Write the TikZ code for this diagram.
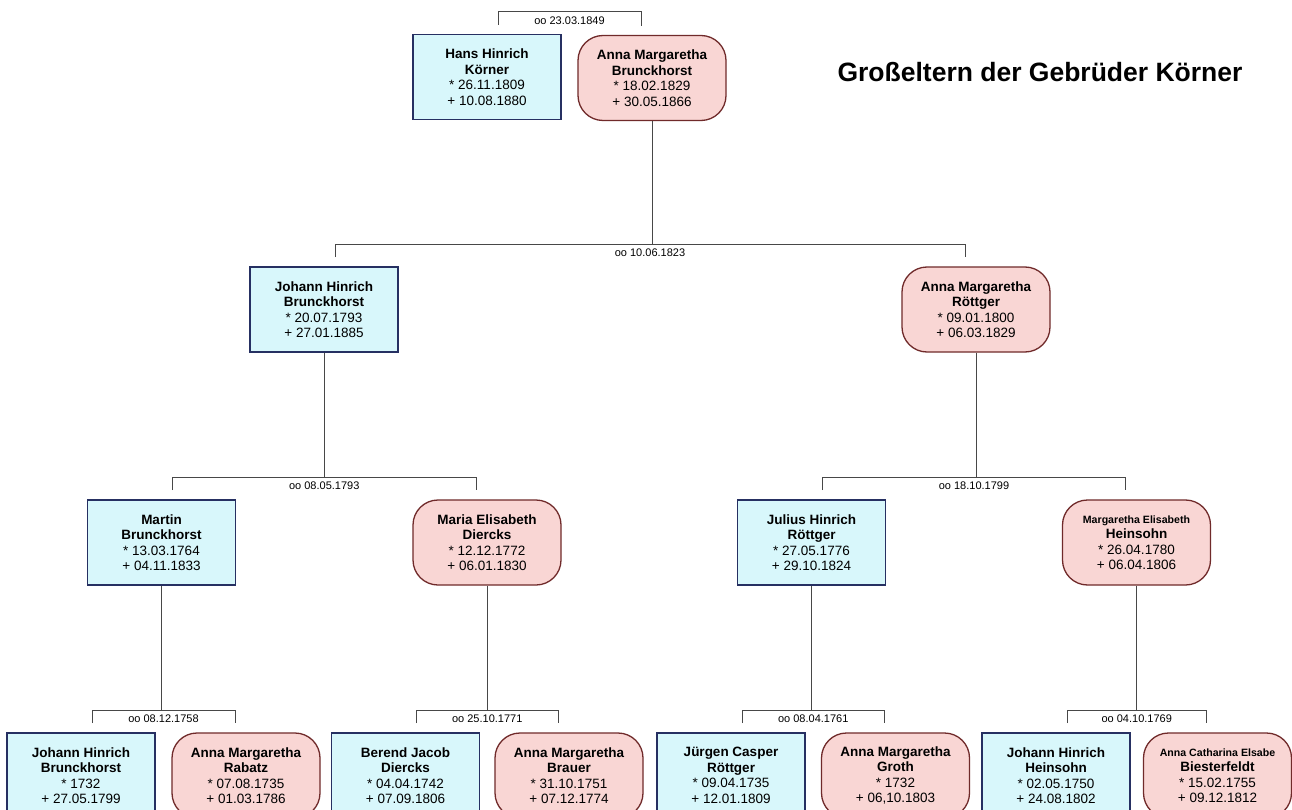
\documentclass[tikz,border=0pt]{standalone}
\usepackage{fontspec}
\setmainfont{Liberation Sans}
\usetikzlibrary{calc}
\definecolor{manfill}{RGB}{216,247,251}
\definecolor{manedge}{RGB}{38,48,98}
\definecolor{womanfill}{RGB}{249,214,212}
\definecolor{womanedge}{RGB}{112,42,42}
\definecolor{linkgray}{RGB}{72,72,72}
% one person card: two bold name lines, birth and death dates
\newcommand{\pcard}[4]{\textbf{#1}\\\textbf{#2}\\{}* #3\\{}+ #4}
\newcommand{\smallname}[1]{{\fontsize{10.6}{15.5}\selectfont #1}}
% marriage bracket above a couple: husband, wife, date, coordinate prefix
\newcommand{\wedlock}[4]{%
  \coordinate (#4l) at ([xshift=11pt,yshift=9pt]#1.north);
  \coordinate (#4r) at ([xshift=-11pt,yshift=9pt]#2.north);
  \coordinate (#4m) at ($(#4l)!0.5!(#4r)+(0,13)$);
  \draw[link] (#4l) -- ++(0,13) -| (#4r);
  \node[wed] (#4t) at ($(#4m)+(0,-8.5)$) {#3};
}
\begin{document}
\begin{tikzpicture}[x=1pt,y=1pt,
  man/.style={draw=manedge, fill=manfill, line width=1.6pt,
    minimum width=148pt, minimum height=85pt, inner sep=0pt,
    align=center, font=\fontsize{13.5}{15.5}\selectfont},
  woman/.style={man, draw=womanedge, fill=womanfill, line width=1.3pt,
    rounded corners=25pt},
  link/.style={draw=linkgray, line width=0.9pt},
  wed/.style={font=\fontsize{11}{12}\selectfont, inner sep=0pt}]
\useasboundingbox (0,0) rectangle (1292,-810);
\clip (0,0) rectangle (1292,-810);
\fill[white] (0,0) rectangle (1292,-810);

\node[font=\bfseries\fontsize{26.5}{30}\selectfont, anchor=base] (title)
  at (1040,-82) {Großeltern der Gebrüder Körner};

% generation 1
\node[man]   (hans)  at (487,-77)   {\pcard{Hans Hinrich}{Körner}{26.11.1809}{10.08.1880}};
\node[woman] (annab) at (652,-78)   {\pcard{Anna Margaretha}{Brunckhorst}{18.02.1829}{30.05.1866}};

% generation 2
\node[man]   (jhb)   at (324,-309.5) {\pcard{Johann Hinrich}{Brunckhorst}{20.07.1793}{27.01.1885}};
\node[woman] (amr)   at (976,-309.5) {\pcard{Anna Margaretha}{Röttger}{09.01.1800}{06.03.1829}};

% generation 3
\node[man]   (martin) at (161.5,-542.5) {\pcard{Martin}{Brunckhorst}{13.03.1764}{04.11.1833}};
\node[woman] (maria)  at (487,-542.5)   {\pcard{Maria Elisabeth}{Diercks}{12.12.1772}{06.01.1830}};
\node[man]   (julius) at (811.5,-542.5) {\pcard{Julius Hinrich}{Röttger}{27.05.1776}{29.10.1824}};
\node[woman] (marg)   at (1136.5,-542.5){\pcard{\smallname{Margaretha Elisabeth}}{Heinsohn}{26.04.1780}{06.04.1806}};

% generation 4
\node[man]   (jhbr)   at (81,-775.5)    {\pcard{Johann Hinrich}{Brunckhorst}{1732}{27.05.1799}};
\node[woman] (rabatz) at (246,-775.5)   {\pcard{Anna Margaretha}{Rabatz}{07.08.1735}{01.03.1786}};
\node[man]   (berend) at (405.5,-775.5) {\pcard{Berend Jacob}{Diercks}{04.04.1742}{07.09.1806}};
\node[woman] (brauer) at (569,-775.5)   {\pcard{Anna Margaretha}{Brauer}{31.10.1751}{07.12.1774}};
\node[man]   (jurgen) at (731,-775.5)   {\pcard{Jürgen Casper}{Röttger}{09.04.1735}{12.01.1809}};
\node[woman] (groth)  at (895.5,-775.5) {\pcard{Anna Margaretha}{Groth}{1732}{06,10.1803}};
\node[man]   (jhh)    at (1056,-775.5)  {\pcard{Johann Hinrich}{Heinsohn}{02.05.1750}{24.08.1802}};
\node[woman] (biest)  at (1217.5,-775.5){\pcard{\smallname{Anna Catharina Elsabe}}{Biesterfeldt}{15.02.1755}{09.12.1812}};

% marriage brackets
\wedlock{hans}{annab}{oo 23.03.1849}{wa}
\wedlock{jhb}{amr}{oo 10.06.1823}{wb}
\wedlock{martin}{maria}{oo 08.05.1793}{wc}
\wedlock{julius}{marg}{oo 18.10.1799}{wd}
\wedlock{jhbr}{rabatz}{oo 08.12.1758}{we}
\wedlock{berend}{brauer}{oo 25.10.1771}{wf}
\wedlock{jurgen}{groth}{oo 08.04.1761}{wg}
\wedlock{jhh}{biest}{oo 04.10.1769}{wh}

% descent lines from each child down to its parents' bracket
\draw[link] (annab.south)  -- (annab.south  |- wbm);
\draw[link] (jhb.south)    -- (jhb.south    |- wcm);
\draw[link] (amr.south)    -- (amr.south    |- wdm);
\draw[link] (martin.south) -- (martin.south |- wem);
\draw[link] (maria.south)  -- (maria.south  |- wfm);
\draw[link] (julius.south) -- (julius.south |- wgm);
\draw[link] (marg.south)   -- (marg.south   |- whm);
\end{tikzpicture}
\end{document}
